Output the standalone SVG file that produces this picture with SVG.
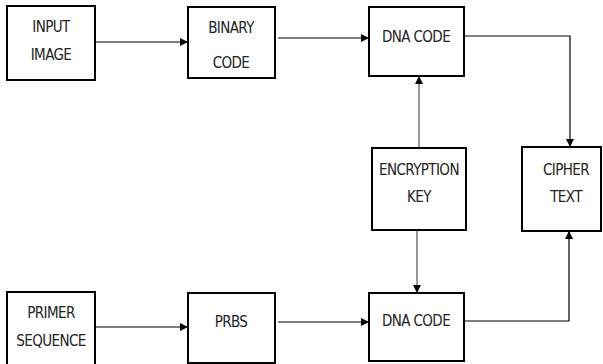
<svg xmlns="http://www.w3.org/2000/svg" width="603" height="364" viewBox="0 0 603 364">
<style>
.box{fill:#fff;stroke:#000;stroke-width:2}
.lbl{font-family:"DejaVu Sans Condensed","Liberation Sans",sans-serif;font-size:15px;letter-spacing:-0.6px;fill:#222;text-anchor:middle}
.ln{fill:none;stroke:#000;stroke-width:1.2}
.gr{fill:none;stroke:#555;stroke-width:1.2}
</style>
<defs>
<marker id="ah" viewBox="0 0 10 10" refX="10" refY="5" markerWidth="8" markerHeight="8" markerUnits="userSpaceOnUse" orient="auto">
<path d="M0,0 L10,5 L0,10 Z" fill="#000"/>
</marker>
</defs>
<rect width="603" height="364" fill="#fff"/>
<g id="connectors">
<line class="ln" x1="95" y1="42" x2="188" y2="42" marker-end="url(#ah)"/>
<line class="ln" x1="278" y1="38" x2="369" y2="38" marker-end="url(#ah)"/>
<polyline class="ln" points="464,36 570,36 570,147" marker-end="url(#ah)"/>
<line class="gr" x1="419" y1="148" x2="419" y2="76" marker-end="url(#ah)"/>
<line class="gr" x1="417" y1="230" x2="417" y2="293" marker-end="url(#ah)"/>
<line class="ln" x1="95" y1="327" x2="188" y2="327" marker-end="url(#ah)"/>
<line class="ln" x1="278" y1="322" x2="369" y2="322" marker-end="url(#ah)"/>
<polyline class="ln" points="464,321 569,321 569,231" marker-end="url(#ah)"/>
</g>
<g id="input-image">
<rect class="box" x="7" y="6" width="88" height="74"/>
<text class="lbl" x="51" y="32">INPUT</text>
<text class="lbl" x="51" y="60">IMAGE</text>
</g>
<g id="binary-code">
<rect class="box" x="188" y="7" width="87" height="71"/>
<text class="lbl" x="231" y="33">BINARY</text>
<text class="lbl" x="231" y="68">CODE</text>
</g>
<g id="dna-code-top">
<rect class="box" x="369" y="7" width="95" height="69"/>
<text class="lbl" x="416" y="42">DNA CODE</text>
</g>
<g id="encryption-key">
<rect class="box" x="372" y="148" width="94" height="82"/>
<text class="lbl" x="419" y="175">ENCRYPTION</text>
<text class="lbl" x="419" y="202">KEY</text>
</g>
<g id="cipher-text">
<rect class="box" x="522" y="147" width="79" height="84"/>
<text class="lbl" x="566" y="175">CIPHER</text>
<text class="lbl" x="566" y="202">TEXT</text>
</g>
<g id="primer-sequence">
<rect class="box" x="7" y="292" width="88" height="80"/>
<text class="lbl" x="51" y="318">PRIMER</text>
<text class="lbl" x="51" y="346">SEQUENCE</text>
</g>
<g id="prbs">
<rect class="box" x="188" y="293" width="87" height="70"/>
<text class="lbl" x="231" y="327">PRBS</text>
</g>
<g id="dna-code-bottom">
<rect class="box" x="369" y="293" width="95" height="68"/>
<text class="lbl" x="416" y="326">DNA CODE</text>
</g>
</svg>
